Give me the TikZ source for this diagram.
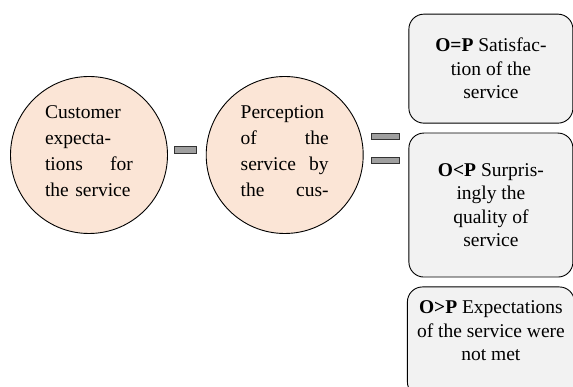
\documentclass[tikz,border=0pt]{standalone}
\usepackage{fontspec}
\setmainfont{Liberation Serif}
\usetikzlibrary{shapes,positioning,calc}
\definecolor{peach}{HTML}{FBE5D6}
\colorlet{lightgray}{gray!10}
\tikzstyle{bar} = [draw=black!80, fill=gray!75, line width=0.8pt, inner sep=0pt]

\begin{document}
\begin{tikzpicture}[x=1pt, y=1pt,
	expect/.style={circle, draw, line width=0.9pt, fill=peach, minimum size=157pt, inner sep=0pt, text width=88pt, text depth=86pt, align=left, font=\fontsize{19.5}{26}\selectfont},
	result/.style={rectangle, rounded corners=15pt, draw, line width=0.9pt, fill=lightgray, minimum width=164pt, align=center, font=\fontsize{19.5}{23.5}\selectfont}]
	
	\useasboundingbox (0,0) rectangle (573,387);
	
	% EXPECTATION - PERCEPTION
	
	\node [expect] (customer) at (89,232) {Customer\\expecta-\\tions\hfill for\\the service};
	
	\node [bar, minimum width=22pt, minimum height=7pt, right=6pt of customer, yshift=5pt] (minus) {};
	
	\node [expect, right=9pt of minus, yshift=-5pt] (perception) {Perception\\of\hfill the\\service\hfill by\\the\hfill cus-};
	
	\node [bar, minimum width=28pt, minimum height=6pt, right=7pt of perception, yshift=19pt] (eqtop) {};
	\node [bar, minimum width=28pt, minimum height=6pt, below=18pt of eqtop] (eqbottom) {};
	
	% RESULTS
	
	\node [result, minimum height=144pt, right=9pt of eqtop.north east, anchor=north west] (surprise)
	{\textbf{O<P} Surpris-\\ingly the\\quality of\\service};
	
	\node [result, minimum height=109pt, above=9pt of surprise] (satisfaction)
	{\textbf{O=P} Satisfac-\\tion of the\\service};
	
	\node [result, minimum width=167pt, minimum height=110pt, text depth=22pt, below=9pt of surprise] (unmet)
	{\textbf{O>P} Expectations\\of the service were\\not met};
	
\end{tikzpicture}
\end{document}
